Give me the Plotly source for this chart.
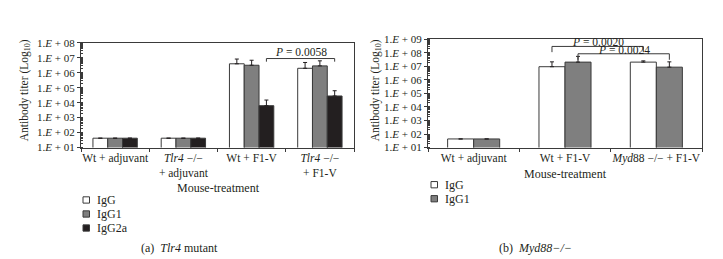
import plotly.graph_objects as go

W, H = 723, 259

# ---------------- data ----------------
cats_a = ["Wt + adjuvant", "<i>Tlr4</i> −/−<br>+ adjuvant", "Wt + F1-V", "<i>Tlr4</i> −/−<br>+ F1-V"]
igg_a = [42, 42, 4.0e6, 2.0e6]
igg_a_top = [42, 42, 8.3e6, 4.9e6]
igg1_a = [42, 42, 3.2e6, 2.9e6]
igg1_a_top = [42, 42, 6.9e6, 6.3e6]
igg2a_a = [42, 42, 6.3e3, 2.8e4]
igg2a_a_top = [42, 42, 1.5e4, 6.3e4]

cats_b = ["Wt + adjuvant", "Wt + F1-V", "<i>Myd</i>88 −/− + F1-V"]
igg_b = [43, 9.6e6, 2.1e7]
igg_b_top = [43, 2.2e7, 2.6e7]
igg1_b = [43, 2.1e7, 8.9e6]
igg1_b_top = [43, 5.6e7, 2.2e7]

series_names = ["IgG", "IgG1", "IgG2a"]
series_colors = ["#ffffff", "#7f7f7f", "#231f20"]

ytick_a = [10 ** k for k in range(1, 9)]
ytick_b = [10 ** k for k in range(1, 10)]
ytext_a = ["1.<i>E</i> + %02d" % k for k in range(1, 9)]
ytext_b = ["1.<i>E</i> + %02d" % k for k in range(1, 10)]

p_a = ["<i>P</i> = 0.0058"]
p_b = ["<i>P</i> = 0.0020", "<i>P</i> = 0.0024"]

FONT = "Liberation Serif, Times New Roman, serif"
TXT = "#231f20"
LINE = "#3a3a3a"


def px(x):
    return x / W


def py(y):
    return 1 - y / H


fig = go.Figure()

# ---------------- panel a ----------------
bw_a = 0.65 / 3
sets_a = [(igg_a, igg_a_top), (igg1_a, igg1_a_top), (igg2a_a, igg2a_a_top)]
for i, (vals, tops) in enumerate(sets_a):
    fig.add_trace(go.Bar(
        x=cats_a, y=vals, width=bw_a, offset=-0.325 + i * bw_a,
        marker=dict(color=series_colors[i], line=dict(color=LINE, width=1)),
        error_y=dict(type="data", symmetric=False,
                     array=[t - v for t, v in zip(tops, vals)],
                     arrayminus=[0] * len(vals), color="#231f20",
                     thickness=1, width=2),
        xaxis="x", yaxis="y", showlegend=False, name=series_names[i]))

# ---------------- panel b ----------------
bw_b = 0.285
sets_b = [(igg_b, igg_b_top), (igg1_b, igg1_b_top)]
for i, (vals, tops) in enumerate(sets_b):
    fig.add_trace(go.Bar(
        x=cats_b, y=vals, width=bw_b, offset=-bw_b + i * bw_b,
        marker=dict(color=series_colors[i], line=dict(color=LINE, width=1)),
        error_y=dict(type="data", symmetric=False,
                     array=[t - v for t, v in zip(tops, vals)],
                     arrayminus=[0] * len(vals), color="#231f20",
                     thickness=1, width=2),
        xaxis="x2", yaxis="y2", showlegend=False, name=series_names[i]))

axfont = dict(family=FONT, size=11.5, color=TXT)
xcommon = dict(type="category", showline=True, linecolor=LINE, linewidth=1,
               mirror=True, ticks="outside", ticklen=3, tickcolor=LINE,
               tickson="boundaries", tickfont=axfont, showgrid=False,
               zeroline=False, fixedrange=True, tickangle=0)
ycommon = dict(type="log", showline=True, linecolor=LINE, linewidth=1,
               mirror=True, ticks="outside", ticklen=3, tickcolor=LINE,
               tickfont=dict(family=FONT, size=11, color=TXT),
               showgrid=False, zeroline=False,
               minor=dict(ticks="inside", ticklen=2, tickcolor=LINE, dtick="D1"))

fig.update_layout(
    width=W, height=H, margin=dict(l=0, r=0, t=0, b=0),
    paper_bgcolor="white", plot_bgcolor="white",
    barmode="overlay", showlegend=False,
    font=dict(family=FONT, size=11, color=TXT),
    xaxis=dict(domain=[px(73), px(346)], anchor="y",
               range=[-0.5, len(cats_a) - 0.5], **xcommon),
    yaxis=dict(domain=[py(140), py(30.3)], anchor="x", range=[1, 8],
               tickvals=ytick_a, ticktext=ytext_a, **ycommon),
    xaxis2=dict(domain=[px(420), px(694)], anchor="y2",
                range=[-0.5, len(cats_b) - 0.5], **xcommon),
    yaxis2=dict(domain=[py(140), py(26.7)], anchor="x2", range=[1, 9],
                tickvals=ytick_b, ticktext=ytext_b, **ycommon),
)

ann = []
shapes = []


def text(x, y, s, size=11, angle=0, xanchor="center"):
    ann.append(dict(x=x, y=y, xref="paper", yref="paper", text=s,
                    showarrow=False, xanchor=xanchor, yanchor="middle",
                    textangle=angle, font=dict(family=FONT, size=size, color=TXT)))


# axis titles
text(px(210), py(182), "Mouse-treatment", 12)
text(px(557), py(168), "Mouse-treatment", 12)
text(px(17), py(80), "Antibody titer (Log<sub>10</sub>)", 11.5, -90)
text(px(368), py(80), "Antibody titer (Log<sub>10</sub>)", 11.5, -90)

# captions
text(px(171), py(245), "(a)  <i>Tlr4</i> mutant", 12)
text(px(527), py(245), "(b)  <i>Myd88−/−</i>", 12)


def bracket(xref, x0, x1, ytop, ybot, label, ylab):
    shapes.append(dict(type="path", xref=xref, yref="paper",
                       path="M %f,%f L %f,%f L %f,%f L %f,%f" % (x0, py(ybot), x0, py(ytop), x1, py(ytop), x1, py(ybot)),
                       line=dict(color=LINE, width=1)))
    ann.append(dict(x=(x0 + x1) / 2, y=py(ylab), xref=xref, yref="paper", text=label,
                    showarrow=False, xanchor="center", yanchor="middle",
                    font=dict(family=FONT, size=11.5, color=TXT)))


# panel a bracket: IgG2a Wt+F1-V vs Tlr4 F1-V
ca = -0.325 + 2.5 * bw_a
bracket("x", 2 + ca, 3 + ca, 46.7, 50, p_a[0], 40)
# panel b brackets
cw = -bw_b / 2
cg = bw_b / 2
bracket("x2", 1 + cw, 2 + cw, 34, 40, p_b[0], 29.5)
bracket("x2", 1 + cg, 2 + cg, 41.7, 48, p_b[1], 37.5)


# legends (manual)
def legend(x0, y0, n):
    for i in range(n):
        yc = y0 + i * 14.7
        shapes.append(dict(type="rect", xref="paper", yref="paper",
                           x0=px(x0), x1=px(x0 + 6.5), y0=py(yc - 3.3), y1=py(yc + 3.3),
                           fillcolor=series_colors[i], line=dict(color=LINE, width=1)))
        text(px(x0 + 12), py(yc), series_names[i], 12, 0, "left")


legend(75, 195, 3)
legend(423, 179, 2)

fig.update_layout(annotations=ann, shapes=shapes)
fig.write_html("out.html")
